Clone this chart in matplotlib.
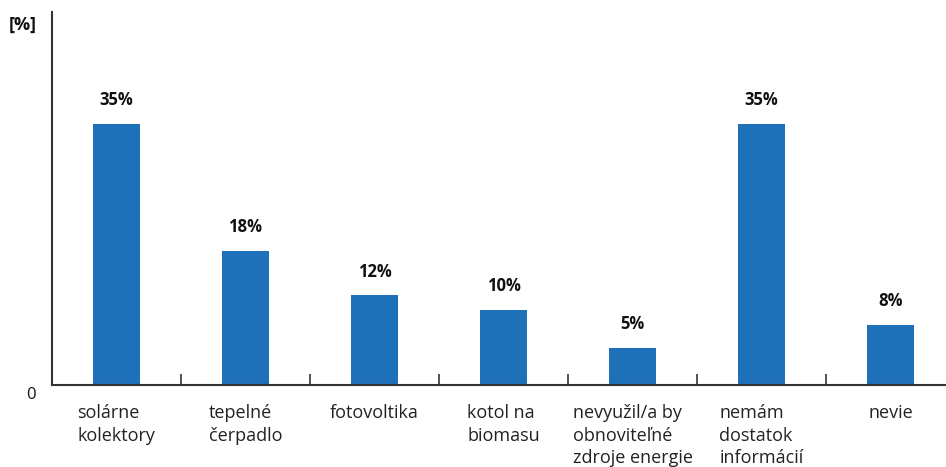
import numpy as np
import matplotlib.pyplot as plt

categories = ["solárne\nkolektory", "tepelné\nčerpadlo", "fotovoltika",
              "kotol na\nbiomasu", "nevyužil/a by\nobnoviteľné\nzdroje energie",
              "nemám\ndostatok\ninformácií", "nevie"]
values = [35, 18, 12, 10, 5, 35, 8]
value_labels = ["35%", "18%", "12%", "10%", "5%", "35%", "8%"]

plt.rcParams['font.family'] = ['Open Sans', 'DejaVu Sans']

fig = plt.figure(figsize=(9.46, 4.67), dpi=100)
ax = fig.add_axes([0.055, 0.1756, 0.945, 0.7987])

x = np.arange(len(categories))
ax.bar(x, values, width=0.36, color='#1e70b9')

for xi, v, lab in zip(x, values, value_labels):
    ax.text(xi, v + 2.0, lab, ha='center', va='bottom', fontsize=12,
            fontweight='bold', color='#111111')

for xi, cat in zip(x, categories):
    ax.text(xi, -2.6, cat, ha='center', va='top', multialignment='left',
            fontsize=13, color='#222222', linespacing=1.3)

ax.set_xlim(-0.5, 6.43)
ax.set_ylim(0, 50)
ax.set_xticks(x[:-1] + 0.5)
ax.set_xticklabels([])
ax.set_yticks([])
ax.tick_params(axis='x', direction='in', length=8, width=1.2, color='#333333')

for s in ['top', 'right']:
    ax.spines[s].set_visible(False)
for s in ['left', 'bottom']:
    ax.spines[s].set_color('#333333')
    ax.spines[s].set_linewidth(1.5)

fig.text(9 / 946, 1 - 25 / 467, "[%]", fontsize=13, fontweight='bold',
         va='center', ha='left', color='#111111')
fig.text(31 / 946, 1 - 395 / 467, "0", fontsize=12, va='center',
         ha='center', color='#111111')

fig.savefig("out.png", dpi=100)
